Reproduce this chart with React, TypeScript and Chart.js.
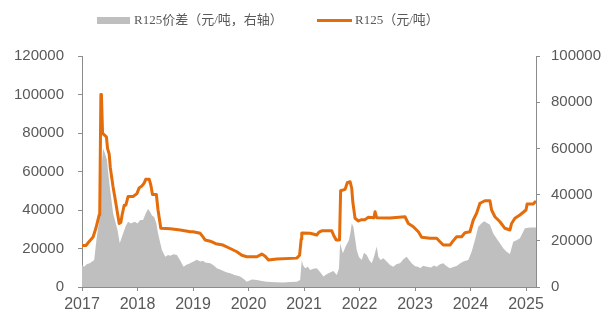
import React, { useEffect, useRef } from "react";
import { Chart, registerables } from "chart.js";

Chart.register(...registerables);

// R125 price (yuan/ton), left axis
const priceYears = [
  2017.0, 2017.07, 2017.11, 2017.2, 2017.25, 2017.31, 2017.32, 2017.34, 2017.35, 2017.37,
  2017.4, 2017.44, 2017.46, 2017.49, 2017.51, 2017.54, 2017.56, 2017.59, 2017.63, 2017.67,
  2017.7, 2017.72, 2017.76, 2017.79, 2017.83, 2017.92, 2017.99, 2018.03, 2018.08, 2018.12,
  2018.15, 2018.21, 2018.24, 2018.27, 2018.34, 2018.37, 2018.42, 2018.59, 2018.77, 2018.95,
  2019.0, 2019.13, 2019.18, 2019.22, 2019.31, 2019.41, 2019.54, 2019.67, 2019.79, 2019.88,
  2019.97, 2020.15, 2020.24, 2020.3, 2020.36, 2020.51, 2020.87, 2020.92, 2020.95, 2020.96,
  2021.11, 2021.23, 2021.27, 2021.32, 2021.5, 2021.54, 2021.58, 2021.64, 2021.66, 2021.74,
  2021.78, 2021.83, 2021.86, 2021.88, 2021.92, 2021.98, 2022.04, 2022.1, 2022.16, 2022.26,
  2022.28, 2022.31, 2022.55, 2022.82, 2022.88, 2022.97, 2023.06, 2023.12, 2023.27, 2023.39,
  2023.45, 2023.51, 2023.63, 2023.69, 2023.75, 2023.84, 2023.9, 2023.99, 2024.05, 2024.11,
  2024.17, 2024.26, 2024.35, 2024.38, 2024.44, 2024.53, 2024.62, 2024.71, 2024.74, 2024.8,
  2024.89, 2025.0, 2025.02, 2025.13, 2025.18,
];
const priceValues = [
  21500, 21500, 23000, 26000, 30500, 37500, 40000, 100000, 100000, 80000,
  79000, 78000, 72000, 69000, 62000, 56000, 52000, 47000, 40000, 33000,
  33500, 37000, 42500, 42500, 47000, 47000, 48500, 51500, 52500, 54000,
  56000, 56000, 53000, 48000, 48000, 40000, 30500, 30200, 29600, 28700,
  28700, 27900, 26000, 24400, 23800, 22500, 21800, 20000, 18300, 16500,
  15700, 15700, 17100, 16000, 14000, 14500, 15000, 16500, 25000, 28000,
  27900, 27000, 28500, 29200, 29200, 26500, 24400, 24400, 50000, 50700,
  54200, 54700, 51300, 44000, 35700, 34300, 35000, 35000, 36200, 36000,
  39100, 36000, 35800, 36500, 33000, 31300, 28700, 25800, 25300, 25300,
  23500, 21800, 21800, 24100, 26100, 26100, 28200, 28700, 34800, 38300,
  43500, 44800, 44800, 40000, 36500, 33900, 30500, 29600, 33000, 35700,
  37400, 40000, 43100, 43100, 44700,
];

// R125 spread (yuan/ton), right axis
const spreadYears = [
  2017.0, 2017.04, 2017.09, 2017.14, 2017.22, 2017.26, 2017.31, 2017.33, 2017.35, 2017.38,
  2017.41, 2017.45, 2017.47, 2017.5, 2017.56, 2017.64, 2017.68, 2017.74, 2017.79, 2017.83,
  2017.88, 2017.95, 2018.0, 2018.05, 2018.1, 2018.15, 2018.19, 2018.23, 2018.26, 2018.3,
  2018.34, 2018.37, 2018.44, 2018.5, 2018.55, 2018.59, 2018.65, 2018.71, 2018.77, 2018.83,
  2018.88, 2018.92, 2019.01, 2019.07, 2019.13, 2019.18, 2019.22, 2019.31, 2019.37, 2019.43,
  2019.49, 2019.54, 2019.6, 2019.67, 2019.75, 2019.85, 2019.92, 2019.97, 2020.06, 2020.15,
  2020.24, 2020.33, 2020.48, 2020.63, 2020.75, 2020.87, 2020.93, 2020.96, 2020.98, 2021.02,
  2021.07, 2021.11, 2021.17, 2021.23, 2021.29, 2021.35, 2021.4, 2021.44, 2021.53, 2021.59,
  2021.63, 2021.65, 2021.7, 2021.75, 2021.81, 2021.84, 2021.86, 2021.89, 2021.95, 2021.99,
  2022.04, 2022.08, 2022.13, 2022.18, 2022.22, 2022.26, 2022.31, 2022.34, 2022.38, 2022.43,
  2022.49, 2022.55, 2022.61, 2022.67, 2022.73, 2022.79, 2022.85, 2022.9, 2022.94, 2023.0,
  2023.06, 2023.09, 2023.15, 2023.21, 2023.29, 2023.34, 2023.39, 2023.45, 2023.51, 2023.57,
  2023.63, 2023.69, 2023.75, 2023.81, 2023.87, 2023.96, 2024.02, 2024.08, 2024.14, 2024.2,
  2024.25, 2024.29, 2024.35, 2024.41, 2024.47, 2024.53, 2024.59, 2024.65, 2024.71, 2024.77,
  2024.83, 2024.89, 2024.94, 2024.98, 2025.07, 2025.18,
];
const spreadValues = [
  9500, 8800, 10000, 10300, 11700, 20300, 29000, 40000, 52000, 60000,
  58000, 55000, 50000, 43400, 31900, 24700, 18900, 23200, 26500, 28300,
  27500, 28300, 27500, 29000, 29000, 31900, 33800, 32500, 31000, 30300,
  27500, 23200, 16000, 13100, 13800, 13500, 14200, 13900, 11500, 8800,
  9600, 10000, 11000, 11800, 11000, 11400, 10600, 10300, 9400, 8100,
  7600, 7000, 6400, 5900, 5200, 4500, 3400, 2300, 3200, 3000,
  2600, 2300, 2100, 1900, 2200, 2300, 3000, 11700, 9500, 8100,
  8800, 7400, 7900, 8100, 6500, 4500, 5400, 5900, 6900, 5200,
  8000, 18900, 14600, 17500, 20300, 24000, 27600, 26000, 16000, 13000,
  11700, 14800, 13900, 11500, 10300, 13000, 17500, 13000, 11700, 12500,
  11000, 9500, 8800, 10000, 10300, 12000, 13100, 11500, 10300, 9000,
  8800, 8100, 9200, 8800, 8400, 9300, 8800, 9800, 10300, 9000,
  8100, 8700, 9100, 10200, 11000, 11700, 15300, 20300, 26100, 27600,
  28500, 27800, 27000, 23200, 21000, 18900, 16800, 15300, 14300, 19600,
  20200, 21100, 23500, 25400, 25800, 25800,
];

const spreadLabel = "R125价差（元/吨，右轴）";
const priceLabel = "R125（元/吨）";
const xMin = 2017;
const xMax = 2025.18;

const ORANGE = "#E46C0A";
const GRAY_FILL = "#BFBFBF";
const AXIS = "#8C8C8C";
const TEXT = "#595959";

const legendPlugin = {
  id: "customLegend",
  afterDraw(chart: any) {
    const ctx = chart.ctx;
    ctx.save();
    ctx.font = "13px 'Liberation Serif', 'Noto Sans CJK SC', serif";
    ctx.textBaseline = "middle";
    ctx.textAlign = "left";
    ctx.fillStyle = GRAY_FILL;
    ctx.fillRect(97, 17, 33, 7);
    ctx.fillStyle = TEXT;
    ctx.fillText(spreadLabel, 134, 20.5);
    ctx.strokeStyle = ORANGE;
    ctx.lineWidth = 3;
    ctx.beginPath();
    ctx.moveTo(317, 20.5);
    ctx.lineTo(352, 20.5);
    ctx.stroke();
    ctx.fillStyle = TEXT;
    ctx.fillText(priceLabel, 355, 20.5);
    ctx.restore();
  },
};

export default function App() {
  const ref = useRef<HTMLCanvasElement | null>(null);
  useEffect(() => {
    if (!ref.current) return;
    const priceData = priceYears.map((x, i) => ({ x, y: priceValues[i] }));
    const spreadData = spreadYears.map((x, i) => ({ x, y: spreadValues[i] }));
    const tickFontY = { family: "'Liberation Sans', Arial, sans-serif", size: 15 };
    const tickFontX = { family: "'Liberation Sans', Arial, sans-serif", size: 16 };
    const chart = new Chart(ref.current, {
      type: "line",
      data: {
        datasets: [
          {
            label: priceLabel,
            data: priceData,
            yAxisID: "y",
            borderColor: ORANGE,
            backgroundColor: ORANGE,
            borderWidth: 3,
            pointRadius: 0,
            tension: 0,
            fill: false,
            borderJoinStyle: "round",
            order: 0,
          },
          {
            label: spreadLabel,
            data: spreadData,
            yAxisID: "y1",
            borderColor: GRAY_FILL,
            backgroundColor: GRAY_FILL,
            borderWidth: 0,
            pointRadius: 0,
            tension: 0,
            fill: "origin",
            order: 1,
          },
        ],
      },
      options: {
        animation: false,
        responsive: true,
        maintainAspectRatio: false,
        layout: { padding: { top: 56, left: 0, right: 0, bottom: 0 } },
        plugins: { legend: { display: false }, tooltip: { enabled: false } },
        scales: {
          x: {
            type: "linear",
            min: xMin,
            max: xMax,
            afterFit: (s: any) => {
              s.height = 28;
            },
            ticks: {
              stepSize: 1,
              includeBounds: false,
              autoSkip: false,
              maxRotation: 0,
              padding: 4,
              color: TEXT,
              font: tickFontX,
              callback: (v: any) => (Number.isInteger(v) ? String(v) : ""),
            },
            grid: { drawOnChartArea: false, drawTicks: true, tickLength: 4, color: AXIS },
            border: { display: true, color: AXIS, width: 1 },
          },
          y: {
            position: "left",
            min: 0,
            max: 120000,
            afterFit: (s: any) => {
              s.width = 82;
            },
            ticks: {
              stepSize: 20000,
              padding: 14,
              color: TEXT,
              font: tickFontY,
              callback: (v: any) => String(v),
            },
            grid: { drawOnChartArea: false, drawTicks: true, tickLength: 4, color: AXIS },
            border: { display: true, color: AXIS, width: 1 },
          },
          y1: {
            position: "right",
            min: 0,
            max: 100000,
            afterFit: (s: any) => {
              s.width = 67;
            },
            ticks: {
              stepSize: 20000,
              padding: 11,
              color: TEXT,
              font: tickFontY,
              callback: (v: any) => String(v),
            },
            grid: { drawOnChartArea: false, drawTicks: true, tickLength: 4, color: AXIS },
            border: { display: true, color: AXIS, width: 1 },
          },
        },
      },
      plugins: [legendPlugin],
    } as any);
    return () => chart.destroy();
  }, []);
  return (
    <div style={{ position: "fixed", left: 0, top: 0, width: 603, height: 315, background: "#fff" }}>
      <canvas ref={ref} />
    </div>
  );
}
